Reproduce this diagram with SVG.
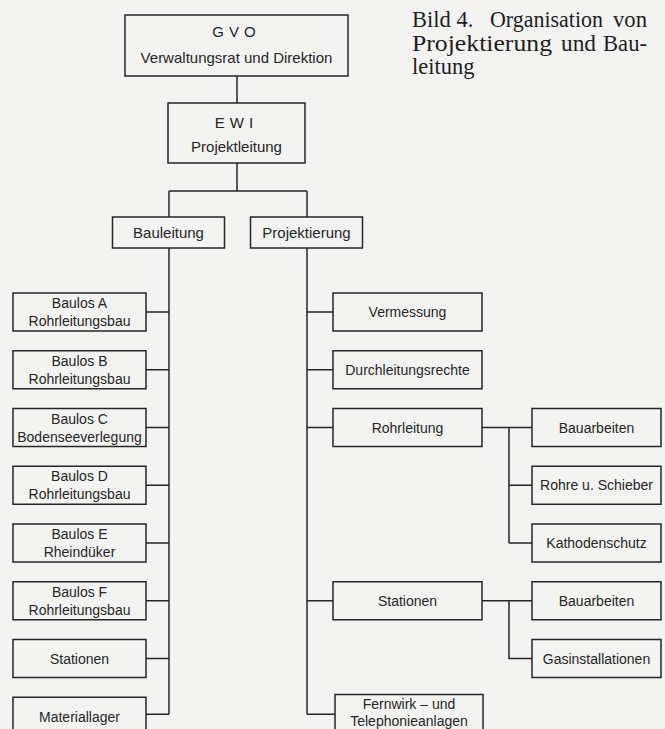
<svg xmlns="http://www.w3.org/2000/svg" width="665" height="729" viewBox="0 0 665 729">
<style>
.bx{fill:none;stroke:#262626;stroke-width:1.5}
.cn{fill:none;stroke:#262626;stroke-width:1.5}
.t{font-family:"Liberation Sans",Arial,sans-serif;font-size:14px;fill:#262626;text-anchor:middle}
.tt{font-family:"Liberation Sans",Arial,sans-serif;font-size:15px;fill:#262626;text-anchor:middle}
.cap{font-family:"Liberation Serif","Times New Roman",serif;font-size:22.5px;fill:#1e1e1e}
</style>
<rect x="0" y="0" width="665" height="729" fill="#f3f3f1"/>
<g id="caption">
<text class="cap" x="412" y="27">Bild 4.</text>
<text class="cap" x="490" y="27" textLength="113" lengthAdjust="spacingAndGlyphs">Organisation</text>
<text class="cap" x="613" y="27" textLength="34" lengthAdjust="spacingAndGlyphs">von</text>
<text class="cap" x="412" y="51" textLength="140" lengthAdjust="spacingAndGlyphs">Projektierung</text>
<text class="cap" x="561" y="51" textLength="35" lengthAdjust="spacingAndGlyphs">und</text>
<text class="cap" x="603" y="51" textLength="44" lengthAdjust="spacingAndGlyphs">Bau-</text>
<text class="cap" x="412" y="74">leitung</text>
</g>
<g id="connectors">
<path class="cn" d="M237 76V103M237 163V191M169 191H307M169 191V217M307 191V217"/>
<path class="cn" d="M169 248V714.25M146 312H169M146 369.75H169M146 427.5H169M146 485.25H169M146 543H169M146 600.75H169M146 658.5H169M146 714.25H169"/>
<path class="cn" d="M307 248V714.25M307 312H333M307 369.75H333M307 427.5H333M307 600.75H333M307 714.25H335"/>
<path class="cn" d="M482 427.5H532M509 427.5V543M509 485.25H532M509 543H532"/>
<path class="cn" d="M482 600.75H532M509 600.75V658.5H532"/>
</g>
<g id="gvo"><rect class="bx" x="125" y="15" width="223" height="61"/><text class="tt" x="236.5" y="37" letter-spacing="5">GVO</text><text class="tt" x="236.5" y="63">Verwaltungsrat und Direktion</text></g>
<g id="ewi"><rect class="bx" x="168" y="103" width="137" height="60"/><text class="tt" x="236.5" y="128" letter-spacing="5">EWI</text><text class="tt" x="236.5" y="152">Projektleitung</text></g>
<g id="bauleitung"><rect class="bx" x="112.5" y="217" width="112" height="31"/><text class="tt" x="168.5" y="238">Bauleitung</text></g>
<g id="projektierung"><rect class="bx" x="250.5" y="217" width="112" height="31"/><text class="tt" x="306.5" y="238">Projektierung</text></g>
<g id="baulosA"><rect class="bx" x="13" y="293" width="133" height="38"/><text class="t" x="79.5" y="308">Baulos A</text><text class="t" x="79.5" y="326">Rohrleitungsbau</text></g>
<g id="baulosB"><rect class="bx" x="13" y="350.75" width="133" height="38"/><text class="t" x="79.5" y="365.75">Baulos B</text><text class="t" x="79.5" y="383.75">Rohrleitungsbau</text></g>
<g id="baulosC"><rect class="bx" x="13" y="408.5" width="133" height="38"/><text class="t" x="79.5" y="423.5">Baulos C</text><text class="t" x="79.5" y="441.5">Bodenseeverlegung</text></g>
<g id="baulosD"><rect class="bx" x="13" y="466.25" width="133" height="38"/><text class="t" x="79.5" y="481.25">Baulos D</text><text class="t" x="79.5" y="499.25">Rohrleitungsbau</text></g>
<g id="baulosE"><rect class="bx" x="13" y="524" width="133" height="38"/><text class="t" x="79.5" y="539">Baulos E</text><text class="t" x="79.5" y="557">Rheindüker</text></g>
<g id="baulosF"><rect class="bx" x="13" y="581.75" width="133" height="38"/><text class="t" x="79.5" y="596.75">Baulos F</text><text class="t" x="79.5" y="614.75">Rohrleitungsbau</text></g>
<g id="stationenL"><rect class="bx" x="13" y="639.5" width="133" height="38"/><text class="t" x="79.5" y="663.5">Stationen</text></g>
<g id="materiallager"><rect class="bx" x="13" y="697.25" width="133" height="34"/><text class="t" x="79.5" y="722">Materiallager</text></g>
<g id="vermessung"><rect class="bx" x="333" y="293" width="149" height="38"/><text class="t" x="407.5" y="317">Vermessung</text></g>
<g id="durchleitungsrechte"><rect class="bx" x="333" y="350.75" width="149" height="38"/><text class="t" x="407.5" y="374.75">Durchleitungsrechte</text></g>
<g id="rohrleitung"><rect class="bx" x="333" y="408.5" width="149" height="38"/><text class="t" x="407.5" y="432.5">Rohrleitung</text></g>
<g id="stationenR"><rect class="bx" x="333" y="581.75" width="149" height="38"/><text class="t" x="407.5" y="605.75">Stationen</text></g>
<g id="fernwirk"><rect class="bx" x="335" y="694.5" width="148" height="37"/><text class="t" x="409" y="709">Fernwirk – und</text><text class="t" x="409" y="726">Telephonieanlagen</text></g>
<g id="bauarbeiten1"><rect class="bx" x="532" y="408.5" width="129" height="38"/><text class="t" x="596.5" y="432.5">Bauarbeiten</text></g>
<g id="rohre"><rect class="bx" x="532" y="466.25" width="129" height="38"/><text class="t" x="596.5" y="490.25">Rohre u. Schieber</text></g>
<g id="kathodenschutz"><rect class="bx" x="532" y="524" width="129" height="38"/><text class="t" x="596.5" y="548">Kathodenschutz</text></g>
<g id="bauarbeiten2"><rect class="bx" x="532" y="581.75" width="129" height="38"/><text class="t" x="596.5" y="605.75">Bauarbeiten</text></g>
<g id="gasinstallationen"><rect class="bx" x="532" y="639.5" width="129" height="38"/><text class="t" x="596.5" y="663.5">Gasinstallationen</text></g>
</svg>
